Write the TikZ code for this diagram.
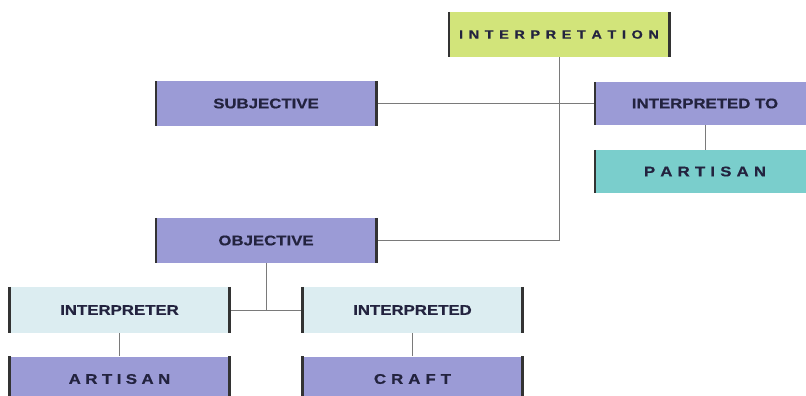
\documentclass[tikz,border=0pt]{standalone}
\usepackage{fontspec}
\setmainfont{Liberation Sans}
\newfontfamily\labelfont[FakeStretch=1.2,BoldFeatures={FakeBold=0.6}]{Liberation Sans}
\usetikzlibrary{calc}

\definecolor{boxlime}{HTML}{D2E47A}
\definecolor{boxlav}{HTML}{9B9BD6}
\definecolor{boxteal}{HTML}{7ACECC}
\definecolor{boxice}{HTML}{DCEDF1}
\definecolor{barcol}{HTML}{333333}
\definecolor{txtcol}{HTML}{23233F}
\definecolor{linecol}{HTML}{7A7A7A}

% letters set apart by a fixed gap
\makeatletter
\newcommand\spaced[2]{\def\sp@gap{\hspace{#1}}\sp@first#2\@nil}
\def\sp@first#1{#1\sp@rest}
\def\sp@rest#1{\ifx#1\@nil\else\sp@gap#1\expandafter\sp@rest\fi}
\makeatother

\begin{document}
\begin{tikzpicture}[x=1pt,y=-1pt,
	box/.style={minimum width=220pt,minimum height=45pt,inner sep=0pt,text=txtcol,
		font=\labelfont\bfseries\fontsize{14}{16}\selectfont},
	link/.style={draw=linecol,line width=0.9pt},
	bar/.style={draw=barcol,line width=2.6pt}]
			\useasboundingbox (0,0) rectangle (806,396);
			\clip (0,0) rectangle (806,396);
			\node[box,fill=boxlime,font=\labelfont\bfseries\fontsize{12}{14}\selectfont] (interp) at (559,34.5) {\spaced{0.47em}{INTERPRETATION}};
			\node[box,fill=boxlav,minimum height=44pt] (subj) at (266,103.5) {SUBJECTIVE};
			\node[box,fill=boxlav,minimum height=43pt] (into) at (705,103.5) {INTERPRETED TO};
			\node[box,fill=boxteal,minimum height=43pt] (partisan) at (705,171.5) {\spaced{0.37em}{PARTISAN}};
			\node[box,fill=boxlav] (obj) at (266,240.5) {OBJECTIVE};
			\node[box,fill=boxice,minimum height=46pt] (interpreter) at (119.5,310) {INTERPRETER};
			\node[box,fill=boxice,minimum height=46pt] (interpreted) at (412.5,310) {INTERPRETED};
			\node[box,fill=boxlav] (artisan) at (119.5,379) {\spaced{0.32em}{ARTISAN}};
			\node[box,fill=boxlav] (craft) at (412.5,379) {\spaced{0.36em}{CRAFT}};
			% connectors
			\draw[link] (interp.south) |- (obj.east);
			\draw[link] (subj.east) -- (into.west);
			\draw[link] (into.south) -- (partisan.north);
			\draw[link] (interpreter.east) -- (interpreted.west);
			\draw[link] (obj.south) -- (obj.south |- interpreter.east);
			\draw[link] (interpreter.south) -- (artisan.north);
			\draw[link] (interpreted.south) -- (craft.north);
			% dark edges left and right of each box
			\foreach \n in {interp,subj,into,partisan,obj,interpreter,interpreted,artisan,craft}
			\draw[bar] (\n.north west) -- (\n.south west) (\n.north east) -- (\n.south east);
\end{tikzpicture}
\end{document}
